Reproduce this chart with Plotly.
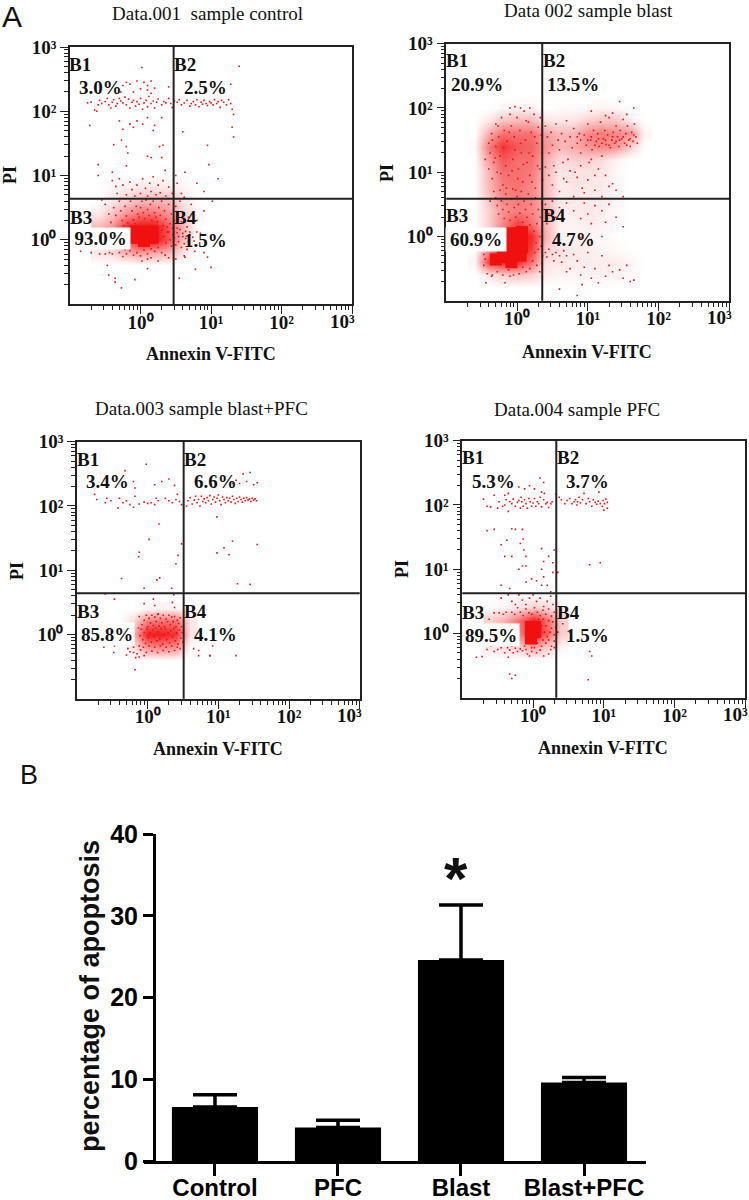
import plotly.graph_objects as go

# ---- flow cytometry dots, as (log10 Annexin V, log10 PI) ----
ctrl_dots = [(-0.75,2.13),(-0.7,2.14),(-0.65,2.02),(-0.62,2.0),(-0.6,2.1),(-0.58,2.17),(-0.55,2.12),(-0.5,2.15),(-0.47,2.2),(-0.45,2.1),(-0.42,2.05),(-0.4,2.14),(-0.38,2.18),(-0.35,2.08),(-0.33,2.12),(-0.3,2.2),(-0.28,2.16),(-0.25,2.13),(-0.22,2.22),(-0.2,2.1),(-0.17,2.19),(-0.15,2.05),(-0.12,2.14),(-0.1,2.17),(-0.07,2.08),(-0.05,2.15),(-0.02,2.11),(0,2.2),(0.03,2.03),(0.05,2.13),(0.08,2.17),(0.1,2.07),(0.12,2.23),(0.15,2.12),(0.18,2.16),(0.2,2.05),(0.23,2.14),(0.25,2.19),(0.3,2.1),(0.33,2.15),(0.36,2.13),(0.4,2.2),(0.43,2.12),(0.45,2.06),(0.48,2.16),(0.52,2.14),(0.55,2.18),(0.58,2.1),(0.62,2.13),(0.66,2.17),(0.7,2.08),(0.72,2.12),(0.75,2.15),(0.78,2.1),(0.8,2.18),(0.83,2.07),(0.86,2.14),(0.88,2.11),(0.9,2.17),(0.93,2.12),(0.95,2.09),(0.98,2.15),(1.0,2.13),(1.03,2.1),(1.05,2.18),(1.08,2.12),(1.1,2.15),(1.13,2.06),(1.15,2.17),(1.18,2.14),(1.22,2.1),(1.25,2.18),(1.28,2.12),(1.3,2.03),(1.32,1.95),
(0.02,2.68),(1.4,2.7),(1.28,2.42),(-0.2,2.45),(-0.15,2.42),(-0.1,2.3),(-0.05,2.47),(0,2.35),(0.05,2.45),(0.1,2.33),(0.15,2.47),(0.1,2.4),(0.15,2.28),(0.2,2.36),(-0.25,2.4),(-0.28,2.3),(0.4,2.38),
(-0.72,1.78),(-0.3,1.85),(-0.25,1.72),(-0.15,1.8),(-0.1,1.75),(-0.05,1.85),(0.03,1.8),(0.1,1.9),(0.18,1.7),(0.2,1.78),(0.3,1.9),(0.6,1.68),(-0.27,1.55),(-0.2,1.45),(-0.18,1.35),(-0.38,1.48),(-0.2,1.15),(0.1,1.3),(0.15,1.28),(0.27,1.45),(0.32,1.47),(0.3,1.28),(-0.6,1.17),(-0.6,1.0),(0.95,1.47),(0.97,1.17),(1.1,0.95),(0.35,1.08),(0.5,1.0),(0.63,1.05),(-0.4,1.05),(1.32,1.6),(1.3,1.75),
(-0.4,0.92),(-0.35,0.83),(-0.33,0.72),(-0.3,0.95),(-0.25,0.85),(-0.2,0.7),(-0.15,0.9),(-0.12,0.78),(-0.08,0.68),(-0.05,0.85),(0,0.72),(0.03,0.95),(0.07,0.8),(0.1,0.68),(0.13,0.88),(0.15,0.75),(0.18,0.98),(0.22,0.7),(0.25,0.85),(0.28,0.73),(0.32,0.92),(0.36,0.68),(0.4,0.82),(0.45,0.72),(0.52,0.88),(0.58,0.72),(0.62,0.66),(0.8,0.88),(0.9,0.75),
(-0.55,0.62),(-0.5,0.55),(-0.45,0.4),(-0.42,0.27),(-0.38,0.5),(-0.35,0.38),(-0.32,0.18),(-0.3,0.6),(-0.28,0.45),(-0.26,0.3),(-0.24,0.22),(-0.22,0.52),(-0.2,0.37),(-0.18,0.26),(-0.16,0.18),(-0.14,0.6),(-0.12,0.45),(-0.1,0.31),(-0.08,0.25),(-0.06,0.52),(-0.04,0.4),(-0.02,0.35),(0,0.5),(0.02,0.6),(0.04,0.42),(0.06,0.33),(0.08,0.62),(0.1,0.47),(0.12,0.38),(0.14,0.55),(0.16,0.3),(0.18,0.6),(0.2,0.42),(0.22,0.35),(0.24,0.28),(0.26,0.5),(0.28,0.38),(0.3,0.6),(0.32,0.22),(0.34,0.45),(0.36,0.32),(0.38,0.12),(0.4,0.55),(0.42,0.25),(0.44,0.4),(0.46,0.08),(0.48,0.3),(0.5,0.52),(0.52,0.18),(0.54,0.05),(0.56,0.6),(0.58,0.28),(0.6,0.1),(0.62,0.42),(0.64,0.02),(0.66,0.2),(0.68,0.35),(0.7,0.12),(0.72,0.55),(0.74,0.28),(0.76,-0.02),(0.8,0.3),(0.85,0.1),(0.9,0.45),(1.02,0.6),
(-0.55,0.17),(-0.5,0.17),(-0.48,0.18),(-0.45,0.15),(0.3,0.15),(0.33,0.05),(0.36,-0.05),(0.38,0.2),(0.4,0.12),(0.42,0),(0.44,-0.1),(0.46,0.18),(0.48,0.03),(0.5,-0.08),(0.52,0.11),(0.54,-0.03),(0.56,0.16),(0.58,-0.12),(0.6,0.05),(0.62,-0.06),(0.64,0.13),(0.66,-0.15),(0.68,-0.02),(0.7,0.08),(0.72,-0.1),(0.74,0.04),(0.77,-0.18),(0.8,0.12),(0.84,-0.05),(0.9,-0.2),(0.25,-0.12),(0.2,-0.18),(0.15,-0.14),(0.1,-0.22),(0.05,-0.16),(0,-0.25),(-0.05,-0.2),(-0.1,-0.24),(-0.15,-0.17),(-0.2,-0.22),(-0.22,-0.15),(-0.25,-0.26),(-0.3,-0.2),(-0.85,-0.18),(-0.7,-0.2),(-0.58,-0.22),(-0.5,-0.22),(-0.44,-0.2),(-0.4,-0.22),(0.3,-0.2),(0.35,-0.24),(0.02,-0.33),(0.1,-0.3),(0.15,-0.28),(0.25,-0.33),(0.4,-0.28),(0.5,-0.3),(0.62,-0.25),
(-0.47,-0.4),(-0.45,-0.55),(-0.36,-0.6),(-0.36,-0.66),(-0.27,-0.75),(-0.08,-0.62),(0.1,-0.45),(1.0,-0.43),(0.78,-0.46),(0.55,-0.6),(0.63,-0.27),(0.95,-0.27)]
ctrl_core = [(-0.08,0.03),(-0.08,0.13),(0.05,-0.02),(0.05,0.12),(0.17,0.03),(0.17,0.13)]
ctrl_dens_x = [-0.6,-0.4,-0.2,0,0.2,0.4,0.6,0.8]
ctrl_dens_y = [-0.4,-0.2,0,0.2,0.4,0.6,0.8,1.0]
ctrl_dens = [[0,0,0,0,0,0,0,0],
             [0.1,0.15,0.3,0.4,0.35,0.3,0.1,0],
             [0,0.1,0.7,1,1,0.7,0.25,0],
             [0.3,0.45,0.9,1,1,0.7,0.3,0],
             [0.1,0.25,0.45,0.6,0.6,0.45,0.2,0.05],
             [0,0.1,0.2,0.3,0.3,0.3,0.1,0],
             [0,0.05,0.08,0.1,0.12,0.1,0.05,0],
             [0,0,0,0,0,0,0,0]]

blast_dots = [(-0.4,1.45),(-0.45,1.2),(-0.4,1.05),(-0.38,1.3),(-0.36,1.6),(-0.35,0.9),(-0.33,1.15),(-0.3,1.75),(-0.3,1.4),(-0.28,1.0),(-0.26,1.55),(-0.24,1.25),(-0.22,1.85),(-0.2,0.8),(-0.18,1.65),(-0.16,1.1),(-0.14,1.48),(-0.12,0.95),(-0.1,1.9),(-0.08,1.72),(-0.06,1.2),(-0.04,1.55),(-0.02,0.72),(0,1.85),(0.02,1.05),(0.04,1.65),(0.06,1.3),(0.08,0.85),(0.1,1.95),(0.12,1.5),(0.14,1.15),(0.16,1.78),(0.18,0.95),(0.2,1.62),(0.22,1.25),(0.24,1.9),(0.26,0.75),(0.28,1.45),(0.3,1.7),(0.32,1.05),(0.34,1.58),(0.36,0.88),(0.18,2.0),(-0.03,2.02),(-0.1,2.0),(0.05,2.0),(-0.35,1.5),(-0.31,1.22),(-0.27,1.72),(-0.23,0.98),(-0.19,1.38),(-0.15,0.75),(-0.11,1.62),(-0.07,1.02),(-0.03,1.35),(0.01,0.9),(0.05,1.45),(0.09,1.12),(0.13,1.8),(0.17,1.3),(0.21,0.85),(0.25,1.55),(0.29,1.1),(0.33,1.85),(0.35,1.3),
(-0.33,0.7),(-0.3,0.6),(-0.28,0.48),(-0.38,0.55),(-0.26,0.35),(-0.24,0.72),(-0.22,0.55),(-0.2,0.42),(-0.18,0.28),(-0.16,0.66),(-0.14,0.5),(-0.12,0.38),(-0.1,0.25),(-0.08,0.58),(-0.06,0.74),(-0.04,0.45),(-0.02,0.3),(0,0.62),(0.02,0.5),(0.04,0.36),(0.06,0.7),(0.08,0.22),(0.1,0.55),(0.12,0.42),(0.14,0.3),(0.16,0.66),(0.18,0.18),(0.2,0.5),(0.22,0.35),(0.24,0.08),(0.26,0.6),(0.28,0.2),(0.3,0.42),(0.32,0),(0.33,0.3),(0.34,-0.15),(0.35,0.52),(0.36,-0.3),(0.27,-0.1),(0.25,-0.25),(0.3,-0.2),(0.22,-0.38),(0.28,-0.45),(0.32,-0.55),(0.35,-0.42),(0.18,-0.5),(0.13,-0.55),(0.08,-0.48),(0.03,-0.58),(-0.05,-0.6),(-0.12,-0.52),(-0.2,-0.6),(-0.28,-0.55),(-0.35,-0.6),(-0.42,-0.58),(-0.47,-0.45),(-0.45,-0.35),(-0.47,-0.28),(-0.36,-0.62),(-0.1,-0.62),(-0.17,-0.72),(-0.44,-0.72),
(0.4,1.72),(0.43,1.55),(0.45,1.3),(0.48,1.62),(0.5,1.42),(0.52,1.1),(0.55,1.75),(0.58,1.5),(0.6,1.35),(0.63,1.6),(0.66,0.9),(0.68,1.48),(0.7,1.8),(0.72,1.2),(0.75,1.55),(0.78,1.38),(0.8,1.68),(0.82,1.0),(0.85,1.45),(0.88,1.6),(0.9,1.3),(0.92,0.75),(0.95,1.58),(0.98,1.42),(1.0,1.75),(1.02,1.15),(1.04,1.5),(1.06,1.35),(1.08,1.65),(1.1,0.95),(1.12,1.48),(1.14,1.6),(1.16,1.4),(1.18,1.78),(1.2,1.25),(1.22,1.52),(1.24,1.65),(1.26,1.43),(1.28,1.58),(1.3,1.85),(1.32,1.38),(1.34,1.5),(1.36,1.62),(1.38,1.45),(1.4,1.72),(1.42,1.55),(1.44,1.4),(1.46,1.65),(1.48,1.52),(1.5,1.82),(1.52,1.45),(1.54,1.6),(1.56,1.72),(1.58,1.5),(1.6,1.4),(1.62,1.62),(1.64,1.48),(1.66,1.75),(1.68,1.55),(1.7,1.45),(1.45,2.1),(1.65,2.0),(1.55,1.9),(1.35,1.92),(1.25,1.88),(1.05,1.95),
(1.0,1.5),(1.05,1.55),(1.1,1.42),(1.15,1.52),(1.2,1.45),(1.25,1.5),(1.3,1.42),(1.35,1.55),(1.4,1.48),(1.45,1.5),(1.5,1.55),(1.55,1.42),(1.6,1.52),(1.65,1.58),(0.9,1.5),(0.85,1.55),
(0.4,1.08),(0.45,0.95),(0.5,0.8),(0.55,1.0),(0.6,0.7),(0.65,1.15),(0.7,0.85),(0.75,1.02),(0.8,0.62),(0.85,0.92),(0.9,1.1),(0.95,0.68),(1.0,0.88),(1.05,1.2),(1.1,0.72),(1.15,1.05),(1.2,0.62),(1.25,0.95),(1.3,0.78),(1.35,0.82),(1.4,0.72),(1.5,0.62),
(0.4,0.5),(0.42,0.2),(0.45,0.35),(0.5,0.55),(0.55,0.3),(0.6,0.45),(0.65,0.25),(0.7,0.52),(0.8,0.4),(0.9,0.28),(0.95,0.52),(1.0,0.35),(1.05,0.2),(1.1,0.48),(1.2,0.4),(1.25,0.22),(1.3,0.5),(1.4,0.3),(1.5,0.15),(0.9,-0.02),(1.05,-0.05),(1.2,0),
(0.4,-0.25),(0.42,-0.32),(0.45,-0.2),(0.5,-0.28),(0.52,-0.38),(0.55,-0.25),(0.6,-0.3),(0.63,-0.4),(0.66,-0.22),(0.7,-0.3),(0.75,-0.5),(0.8,-0.28),(0.85,-0.38),(0.9,-0.6),(0.95,-0.48),(1.0,-0.25),(1.05,-0.65),(1.1,-0.5),(1.15,-0.72),(1.2,-0.3),(1.25,-0.62),(1.3,-0.45),(1.35,-0.55),(1.45,-0.52),(1.5,-0.65),(1.55,-0.45),(1.6,-0.7),(1.65,-0.68),(0.6,-0.82),(0.85,-0.92),(0.92,-0.75),(0.7,-0.55)]
blast_core = [(-0.07,0.05),(-0.07,-0.07),(-0.07,-0.17),(0.07,0.07),(0.07,-0.05),(0.07,-0.17),(-0.2,-0.32),(-0.08,-0.3),(0.05,-0.3),(-0.3,-0.36),(-0.08,-0.4)]
blast_dens_x = [-0.6,-0.4,-0.2,0,0.2,0.4,0.6,0.8,1.0,1.2,1.4,1.6,1.8]
blast_dens_y = [-0.8,-0.6,-0.4,-0.2,0,0.2,0.4,0.6,0.8,1.0,1.2,1.4,1.6,1.8,2.0,2.2]
blast_dens = [[0,0,0,0,0,0,0,0,0,0,0,0,0],
              [0,0.1,0.2,0.25,0.2,0.08,0.05,0.05,0.05,0.06,0.05,0.03,0],
              [0.05,0.8,0.9,0.9,0.6,0.12,0.1,0.08,0.08,0.08,0.08,0.05,0],
              [0,0.5,0.95,1,0.8,0.2,0.12,0.08,0.08,0.05,0.03,0,0],
              [0,0.2,0.6,1,0.9,0.35,0.05,0.05,0.05,0.03,0,0,0],
              [0,0.2,0.5,0.8,0.6,0.3,0.06,0.05,0.08,0.06,0.03,0,0],
              [0,0.2,0.45,0.55,0.5,0.35,0.08,0.08,0.1,0.08,0.03,0,0],
              [0,0.25,0.5,0.55,0.5,0.3,0.08,0.1,0.08,0.08,0.03,0,0],
              [0,0.3,0.55,0.6,0.5,0.3,0.08,0.12,0.1,0.1,0.03,0,0],
              [0,0.3,0.6,0.6,0.55,0.3,0.1,0.12,0.12,0.1,0.03,0,0],
              [0,0.4,0.7,0.6,0.6,0.35,0.15,0.2,0.2,0.15,0.05,0,0],
              [0.03,0.55,0.85,0.7,0.65,0.45,0.3,0.35,0.45,0.5,0.45,0.2,0],
              [0,0.35,0.6,0.6,0.6,0.4,0.3,0.3,0.5,0.55,0.5,0.45,0.05],
              [0,0.1,0.25,0.3,0.3,0.12,0.1,0.12,0.2,0.25,0.25,0.08,0],
              [0,0,0.03,0.05,0.05,0,0.02,0.02,0.02,0.05,0.03,0,0],
              [0,0,0,0,0,0,0,0,0,0,0,0,0]]

pb_dots = [(-0.75,2.18),(-0.72,2.1),(-0.6,2.05),(-0.58,2.12),(-0.52,2.08),(-0.42,1.97),(-0.4,2.12),(-0.35,2.05),(-0.3,2.08),(-0.25,2.02),(-0.2,1.98),(-0.18,2.15),(-0.12,2.03),(-0.05,2.06),(0,2.04),(0.05,2.05),(0.1,2.02),(0.12,2.12),(0.15,2.08),(0.25,2.12),(0.3,2.08),(0.35,2.05),(0.4,2.1),(0.45,2.07),(0.38,2.32),(0.3,2.42),(0.2,2.38),(0.1,2.33),(-0.02,2.65),(-0.32,2.55),(-0.2,2.38),(-0.18,2.28),
(0.42,2.18),(0.48,2.02),(0.55,2.0),(0.57,2.08),(0.6,2.13),(0.63,2.03),(0.66,2.09),(0.68,2.15),(0.7,2.05),(0.72,2.1),(0.74,2.0),(0.76,2.15),(0.78,2.07),(0.8,2.11),(0.82,2.05),(0.84,2.13),(0.86,2.08),(0.88,2.16),(0.9,2.03),(0.92,2.1),(0.94,2.14),(0.96,2.06),(0.98,2.12),(1.0,2.17),(1.02,2.08),(1.04,2.02),(1.06,2.14),(1.08,2.1),(1.1,2.05),(1.12,2.13),(1.14,2.08),(1.16,2.12),(1.18,2.06),(1.2,2.15),(1.22,2.1),(1.24,2.04),(1.26,2.12),(1.28,2.07),(1.3,2.14),(1.32,2.1),(1.34,2.06),(1.36,2.12),(1.38,2.08),(1.4,2.13),(1.42,2.09),(1.44,2.11),(1.46,2.07),(1.48,2.12),(1.5,2.09),(1.52,2.11),(1.54,2.08),(1.3,2.35),(1.35,2.5),(1.45,2.52),(1.55,2.36),(1.5,2.33),(1.4,2.38),(1.25,2.4),(1.2,2.35),
(0.98,1.83),(1.2,1.45),(1.08,1.35),(0.98,1.27),(1.15,1.24),(1.55,1.4),(0.48,1.41),(0.16,1.72),(0.02,1.48),(-0.13,1.21),(-0.12,1.28),(0.43,1.23),(0.4,1.1),(0.13,0.85),(0.17,0.88),(-0.37,0.87),(1.27,0.79),(1.45,0.78),(-0.05,0.72),(0.34,0.72),(0.37,0.62),
(-0.6,0.63),(-0.47,0.55),(0.08,0.55),(-0.05,0.48),(0.1,0.45),(0.35,0.5),(0.38,0.42),(0.15,0.32),
(-0.12,0.28),(-0.08,0.15),(-0.05,0.22),(-0.02,0.3),(0,0.12),(0.02,0.25),(0.04,0.18),(0.06,0.3),(0.08,0.14),(0.1,0.27),(0.12,0.2),(0.14,0.31),(0.16,0.13),(0.18,0.25),(0.2,0.18),(0.22,0.3),(0.24,0.12),(0.26,0.24),(0.28,0.2),(0.3,0.3),(0.32,0.15),(0.34,0.27),(0.36,0.2),(0.38,0.28),(0.4,0.12),(0.42,0.22),(0.44,0.17),(0.46,0.26),(0.48,0.12),
(-0.13,0.1),(-0.11,-0.02),(-0.09,0.08),(-0.07,-0.08),(-0.05,0.03),(-0.03,-0.14),(-0.01,0.08),(0.01,-0.05),(0.03,0.02),(0.05,-0.12),(0.07,0.07),(0.09,-0.03),(0.11,0.1),(0.13,-0.1),(0.15,0.04),(0.17,-0.07),(0.19,0.09),(0.21,-0.15),(0.23,0),(0.25,0.08),(0.27,-0.08),(0.29,0.03),(0.31,-0.13),(0.33,0.06),(0.35,-0.04),(0.37,0.09),(0.39,-0.1),(0.41,0.02),(0.43,-0.15),(0.45,0.07),(0.47,-0.06),(0.49,0.03),(0.5,-0.12),
(-0.12,-0.18),(-0.1,-0.24),(-0.06,-0.2),(-0.02,-0.28),(0.02,-0.18),(0.06,-0.26),(0.1,-0.2),(0.14,-0.28),(0.18,-0.18),(0.22,-0.25),(0.26,-0.2),(0.3,-0.27),(0.34,-0.18),(0.38,-0.25),(0.42,-0.2),(0.46,-0.22),(-0.15,-0.3),(-0.2,-0.28),(-0.25,-0.27),(-0.28,-0.22),(-0.62,-0.2),(-0.47,-0.18),(-0.48,-0.28),(-0.3,-0.32),(-0.12,-0.35),(-0.05,-0.33),(-0.17,-0.36),(-0.2,-0.2),(-0.18,-0.55),(0.65,-0.22),(0.72,-0.25),(0.88,-0.33),(0.92,-0.18),(1.25,-0.33),(0.88,-0.33),(0.72,-0.33)]
pb_core = []
pb_dens_x = [-0.4,-0.2,0,0.2,0.4,0.6]
pb_dens_y = [-0.4,-0.2,0,0.2,0.4]
pb_dens = [[0,0,0,0,0,0],
           [0,0.1,0.45,0.5,0.45,0],
           [0,0.3,0.95,0.95,0.85,0.1],
           [0,0.15,0.55,0.6,0.6,0.1],
           [0,0,0.03,0.05,0.05,0]]

pfc_dots = [(-0.7,2.09),(-0.65,1.98),(-0.6,1.97),(-0.5,1.95),(-0.48,2.05),(-0.43,1.98),(-0.4,2.0),(-0.38,2.08),(-0.35,1.9),(-0.33,2.05),(-0.3,2.02),(-0.28,2.09),(-0.25,1.98),(-0.22,2.04),(-0.2,2.07),(-0.18,1.95),(-0.16,2.05),(-0.14,1.98),(-0.12,2.08),(-0.1,2.02),(-0.08,1.95),(-0.06,2.1),(-0.04,2.05),(-0.02,1.98),(0,2.03),(0.02,2.1),(0.04,1.98),(0.06,2.05),(0.08,2.02),(0.1,2.12),(0.12,1.97),(0.15,2.08),(0.18,2.02),(0.2,2.04),(0.22,1.96),(0.25,2.02),(0.12,2.2),(0.02,2.25),(-0.12,2.25),(-0.2,2.28),(-0.05,2.3),(0.1,2.42),(0.15,2.35),(-0.4,2.15),(-0.55,2.15),(-0.35,2.18),(-0.17,2.12),(0.16,2.18),(0.27,2.05),
(0.32,2.17),(0.37,2.12),(0.4,2.08),(0.45,2.02),(0.48,2.07),(0.52,2.1),(0.55,2.02),(0.58,2.05),(0.6,2.08),(0.62,2.0),(0.63,2.05),(0.65,2.12),(0.67,2.03),(0.7,2.08),(0.72,2.18),(0.75,2.02),(0.78,2.1),(0.8,2.05),(0.83,1.98),(0.85,2.08),(0.88,2.04),(0.9,2.01),(0.92,2.06),(0.95,2.02),(0.98,1.98),(0.99,2.07),(1.01,2.02),(1.03,2.09),(1.05,2.04),(1.05,1.95),(1.0,1.92),(0.93,2.2),
(-0.3,1.63),(-0.25,1.62),(-0.15,1.62),(-0.65,1.6),(-0.55,1.62),(-0.45,1.38),(-0.4,1.2),(-0.37,1.45),(-0.3,1.2),(-0.18,1.4),(-0.14,1.47),(-0.13,1.3),(-0.1,1.2),(-0.1,1.05),(-0.1,0.8),(-0.15,1.05),(-0.2,1.0),(0.12,1.32),(0.15,1.12),(0.12,1.0),(0.15,0.88),(0.12,0.75),(-0.02,0.85),(0.05,0.82),(0.2,0.75),(0.22,1.2),(0.28,1.1),(0.28,0.95),(0.3,1.3),(0.35,0.95),(0.25,0.65),(-0.45,0.75),(-0.33,0.7),(0.8,1.07),(0.95,1.1),
(-0.35,0.6),(-0.3,0.5),(-0.45,0.55),(-0.25,0.45),(-0.2,0.6),(-0.15,0.52),(-0.1,0.45),(-0.05,0.55),(0,0.6),(0.05,0.5),(0.1,0.55),(0.15,0.42),(0.2,0.5),(0.25,0.58),(0.28,0.45),
(-0.48,0.32),(-0.42,0.3),(-0.38,0.33),(-0.3,0.33),(-0.26,0.3),(-0.22,0.4),(-0.18,0.33),(-0.14,0.28),(-0.1,0.38),(-0.06,0.32),(-0.02,0.3),(0.02,0.4),(0.06,0.33),(0.1,0.28),(0.14,0.36),(0.18,0.3),(0.22,0.38),(0.26,0.27),(0.3,0.33),(-0.55,0.32),(-0.62,0.22),
(0.14,0.22),(0.18,0.12),(0.22,0.2),(0.26,0.08),(0.16,0.02),(0.2,-0.05),(0.24,0.02),(0.28,0.18),(0.3,-0.02),(0.32,0.1),(0.14,-0.1),(0.18,-0.15),(0.22,-0.1),(0.26,-0.2),(0.3,-0.12),(0.12,-0.2),(0.06,-0.15),(0.02,-0.22),(-0.02,-0.22),(-0.1,-0.25),(0.08,0.22),(0.12,0.12),
(-0.8,-0.37),(-0.72,-0.36),(-0.65,-0.25),(-0.6,-0.2),(-0.55,-0.28),(-0.5,-0.25),(-0.45,-0.22),(-0.4,-0.3),(-0.36,-0.22),(-0.33,-0.26),(-0.3,-0.2),(-0.28,-0.3),(-0.25,-0.23),(-0.22,-0.28),(-0.18,-0.24),(-0.15,-0.27),(-0.12,-0.2),(-0.08,-0.32),(-0.05,-0.35),(-0.02,-0.28),(0.05,-0.3),(0.1,-0.26),(0.15,-0.35),(0.22,-0.32),(0.25,-0.25),(0.3,-0.22),(-0.35,-0.37),(-0.33,-0.63),(-0.3,-0.7),(-0.25,-0.65),(0.35,0.02),(0.42,0.15),(0.52,0.02),(0.8,-0.28),(0.83,-0.35),(0.78,-0.72)]
pfc_core = [(-0.03,0.02),(-0.03,-0.08),(-0.03,0.1),(0.03,0.02),(0.03,0.1)]
pfc_dens_x = [-0.6,-0.4,-0.2,0,0.2,0.4]
pfc_dens_y = [-0.4,-0.2,0,0.2,0.4,0.6]
pfc_dens = [[0,0,0,0,0,0],
            [0.1,0.15,0.2,0.4,0.2,0.05],
            [0,0.1,0.5,1,0.65,0.2],
            [0.2,0.35,0.6,0.95,0.6,0.2],
            [0.02,0.05,0.1,0.2,0.15,0.05],
            [0,0,0,0,0,0]]

# ---- apoptosis bars ----
groups = ["Control", "PFC", "Blast", "Blast+PFC"]
apoptosis = [6.6, 4.1, 24.6, 9.6]
apoptosis_sd = [1.5, 0.9, 6.7, 0.6]
y_ticks = [0, 10, 20, 30, 40]

# ---- axis ticks, shared by the dot plots ----
decades = [1, 10, 100, 1000]
decade_text = ["10\u2070", "10\u00b9", "10\u00b2", "10\u00b3"]
minor_ticks = [0.2,0.3,0.4,0.5,0.6,0.7,0.8,0.9,2,3,4,5,6,7,8,9,20,30,40,50,60,70,80,90,200,300,400,500,600,700,800,900]

W, H = 749, 1200
SERIF = "Liberation Serif"
SANS = "Liberation Sans"
RED = "#f01010"

panels = [
 dict(box=(70,352,47,304), gate=(2.95,4.36), dots=ctrl_dots, core=ctrl_core, dens=(ctrl_dens_x,ctrl_dens_y,ctrl_dens), title="Data.001  sample control", tpos=(207,13),
      xt=(211,354), yt=(10,175), q=[("B1",80,64),("B2",185,64),("3.0%",100,87),("2.5%",205,87),("B3",81,217),("B4",185,217),("1.5%",205,241)],
      low=("93.0%",100,238,59,21)),
 dict(box=(446.3,729.3,43.7,300.7), gate=(2.27,3.87), dots=blast_dots, core=blast_core, dens=(blast_dens_x,blast_dens_y,blast_dens), title="Data 002 sample blast", tpos=(588,11),
      xt=(587,352), yt=(387,173), q=[("B1",457,61),("B2",554,61),("20.9%",477,84),("13.5%",573,84),("B3",457,216),("B4",554,216),("4.7%",573,240)],
      low=("60.9%",476,240,60,23)),
 dict(box=(77,359.7,441.7,698.7), gate=(3.23,4.37), dots=pb_dots, core=pb_core, dens=(pb_dens_x,pb_dens_y,pb_dens), title="Data.003 sample blast+PFC", tpos=(201,408),
      xt=(218,749), yt=(17,571), q=[("B1",88,459),("B2",195,459),("3.4%",107,482),("6.6%",215,482),("B3",88,611),("B4",195,611),("4.1%",215,634)],
      low=("85.8%",107,634,54,22)),
 dict(box=(462.3,745.3,440.7,697.7), gate=(2.13,4.22), dots=pfc_dots, core=pfc_core, dens=(pfc_dens_x,pfc_dens_y,pfc_dens), title="Data.004 sample PFC", tpos=(577,409),
      xt=(603,748), yt=(402,569), q=[("B1",473,458),("B2",568,458),("5.3%",493,481),("3.7%",587,481),("B3",473,612),("B4",568,612),("1.5%",587,635)],
      low=("89.5%",491,635,56,22)),
]

def fx(p): return p / W
def fy(p): return 1 - p / H
def note(text, x, y, size, font=SERIF, bold=True, **kw):
    label = f"<b>{text}</b>" if bold else text
    return dict(text=label, x=fx(x), y=fy(y), xref="paper", yref="paper", xanchor="center", yanchor="middle",
                showarrow=False, font=dict(family=font, size=size, color="#111"), **kw)

fig = go.Figure()
layout = dict(width=W, height=H, margin=dict(l=0, r=0, t=0, b=0, autoexpand=False), paper_bgcolor="white", plot_bgcolor="white",
              showlegend=False, annotations=[], shapes=[])

def cloud(points, size, xa, ya):
    if points:
        fig.add_trace(go.Scatter(x=[10 ** p[0] for p in points], y=[10 ** p[1] for p in points], mode="markers",
                                 xaxis=xa, yaxis=ya, hoverinfo="skip",
                                 marker=dict(symbol="square", size=size, color=RED, line=dict(width=0))))

for i, p in enumerate(panels, start=1):
    x0, x1, y0, y1 = p["box"]
    sfx = "" if i == 1 else str(i)
    axis = dict(type="log", range=[-1, 3], tickmode="array", tickvals=decades, ticktext=decade_text,
                ticks="outside", ticklen=8, tickwidth=1.2, tickcolor="#222", showgrid=False, zeroline=False,
                showline=True, linecolor="#222", linewidth=1.6, mirror=True, ticklabeloverflow="allow",
                tickfont=dict(family=SERIF, size=19, color="#111", weight="bold"),
                minor=dict(tickmode="array", tickvals=minor_ticks, ticks="outside", ticklen=4, tickwidth=1, tickcolor="#222", showgrid=False))
    # the last x label sits left of its tick in the reference, so it is placed as a note below
    layout["xaxis" + sfx] = dict(axis, domain=[fx(x0), fx(x1)], anchor="y" + sfx, ticklabelstandoff=-8,
                                 ticktext=decade_text[:3] + [""])
    layout["yaxis" + sfx] = dict(axis, domain=[fy(y1), fy(y0)], anchor="x" + sfx)
    layout["annotations"].append(note(decade_text[3], x1 - 10, y1 + 17, 19))
    dx, dy, dz = p["dens"]
    fig.add_trace(go.Heatmap(x=[10 ** v for v in dx], y=[10 ** v for v in dy], z=dz, zmin=0, zmax=1, zsmooth="best", showscale=False,
                             colorscale=[[0, "rgba(240,16,16,0)"], [1, "rgba(240,16,16,1)"]], hoverinfo="skip",
                             xaxis="x" + sfx, yaxis="y" + sfx))
    cloud(p["dots"], 1.6, "x" + sfx, "y" + sfx)
    cloud(p["core"], 12, "x" + sfx, "y" + sfx)
    gx, gy = p["gate"]
    xr, yr = "x" + sfx, "y" + sfx
    layout["shapes"].append(dict(type="line", xref=xr, yref=yr + " domain", x0=gx, x1=gx, y0=0, y1=1, layer="above", line=dict(color="#222", width=2)))
    layout["shapes"].append(dict(type="line", xref=xr + " domain", yref=yr, x0=0, x1=1, y0=gy, y1=gy, layer="above", line=dict(color="#222", width=2)))
    layout["annotations"].append(note(p["title"], *p["tpos"], 19, bold=False))
    layout["annotations"].append(note("Annexin V-FITC", *p["xt"], 18))
    layout["annotations"].append(note("PI", *p["yt"], 18, textangle=-90))
    for t, qx, qy in p["q"]:
        layout["annotations"].append(note(t, qx, qy, 19))
    t, qx, qy, bw, bh = p["low"]
    layout["annotations"].append(note(t, qx, qy, 19, bgcolor="white", width=bw, height=bh, borderpad=0))

# bar chart
fig.add_trace(go.Bar(x=[0, 1, 2, 3], y=apoptosis, width=0.7, xaxis="x5", yaxis="y5", marker=dict(color="black", line=dict(width=0)),
                     error_y=dict(type="data", symmetric=False, array=apoptosis_sd, arrayminus=[0, 0, 0, 0], thickness=3.5, width=22, color="black")))
layout["xaxis5"] = dict(domain=[fx(144), fx(646)], range=[-0.577, 3.504], anchor="y5", tickmode="array", tickvals=[0, 1, 2, 3], ticktext=groups,
                        ticks="outside", ticklen=12, tickwidth=3, tickcolor="black", showline=True, linecolor="black", linewidth=3, ticklabelstandoff=-9,
                        showgrid=False, zeroline=False, tickfont=dict(family=SANS, size=24, color="black", weight="bold"))
layout["yaxis5"] = dict(domain=[fy(1161), fy(834)], range=[0, 40], anchor="free", position=fx(154), tickmode="array", tickvals=y_ticks,
                        ticks="outside", ticklen=10, tickwidth=3, tickcolor="black", showline=True, linecolor="black", linewidth=3,
                        showgrid=False, zeroline=False, tickfont=dict(family=SANS, size=25, color="black", weight="bold"))
layout["annotations"].append(note("percentage of apoptosis", 90, 996, 27, font=SANS, textangle=-90))
layout["annotations"].append(note("*", 456, 878, 60, font=SANS))
layout["annotations"].append(note("A", 12, 17, 30, font=SANS, bold=False))
layout["annotations"].append(note("B", 29, 775, 27, font=SANS, bold=False))

fig.update_layout(**layout)
fig.write_html("out.html", config={"displayModeBar": False}, post_script="document.body.style.margin='0';")
